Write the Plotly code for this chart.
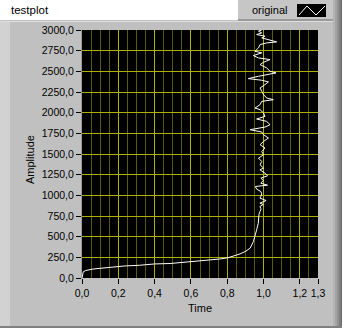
import plotly.graph_objects as go

W, H = 356, 328
ML, MR, MT, MB = 82, 38, 30, 50
PW, PH = W - ML - MR, H - MT - MB

# ---- data ----
time_vals = [0.0, 0.003, 0.007, 0.02, 0.044, 0.06, 0.099, 0.16, 0.233, 0.316, 0.40, 0.485,
             0.567, 0.64, 0.705, 0.76, 0.806, 0.843, 0.87, 0.898, 0.926, 0.944, 0.953,
             0.962, 0.971, 0.971, 0.975, 0.98, 0.985, 0.985, 0.98, 0.999, 0.98, 1.014,
             0.98, 0.985, 0.99, 0.985, 0.962, 0.955, 1.022, 0.985, 0.999, 0.985, 1.022,
             1.012, 0.99, 0.98,
             1.0, 0.981, 0.990, 0.972, 1.0, 0.990, 1.008, 0.981, 1.0, 1.027, 1.0, 0.990,
             0.926, 1.008, 1.036, 1.017, 0.962, 1.008, 1.0, 0.981, 0.953, 0.981, 0.990,
             1.054, 1.017, 1.0, 0.990, 0.981, 1.008, 1.027, 0.990, 0.916, 0.972, 1.017,
             1.069, 1.036, 1.017, 0.981, 1.0, 1.036, 0.972, 0.944, 0.990, 0.953, 0.972,
             0.981, 1.017, 1.072, 1.036, 0.990, 1.008, 0.962, 0.990, 0.972, 0.99]
amp_vals = [0, 30, 76, 90, 105, 108, 117, 130, 145, 154, 170, 175,
            190, 202, 218, 230, 246, 267, 291, 319, 360, 440, 500,
            582, 663, 743, 770, 804, 824, 844, 865, 890, 905, 937,
            966, 986, 1018, 1046, 1075, 1107, 1123, 1147, 1180, 1208, 1236,
            1261, 1289, 1309,
            1329, 1370, 1410, 1450, 1491, 1531, 1572, 1612, 1652, 1693, 1733, 1766,
            1794, 1826, 1854, 1895, 1923, 1955, 1996, 2036, 2056, 2097, 2137,
            2157, 2178, 2218, 2258, 2299, 2339, 2372, 2392, 2412, 2440, 2460,
            2481, 2501, 2541, 2582, 2610, 2642, 2662, 2691, 2723, 2743, 2784,
            2824, 2844, 2856, 2877, 2905, 2925, 2945, 2965, 2986, 3000]

x_tick_vals = [0.0, 0.2, 0.4, 0.6, 0.8, 1.0, 1.2]
x_end_tick = [1.3]
x_minor_vals = [0.05, 0.1, 0.15, 0.25, 0.3, 0.35, 0.45, 0.5, 0.55, 0.65, 0.7, 0.75,
                0.85, 0.9, 0.95, 1.05, 1.1, 1.15, 1.25]
y_tick_vals = [0, 250, 500, 750, 1000, 1250, 1500, 1750, 2000, 2250, 2500, 2750, 3000]

title_text = "testplot"
series_name = "original"
x_title = "Time"
y_title = "Amplitude"

FONT = "Liberation Sans"
MAJOR = "#b0b000"
MINOR = "#5a5a00"
PANEL = "#c0c0c0"


def px(x):
    return (x - ML) / PW


def py(y):
    return (H - MB - y) / PH


def rect(x0, y0, x1, y1, color, layer="below"):
    return dict(type="rect", xref="paper", yref="paper",
                x0=px(x0), x1=px(x1), y0=py(y1), y1=py(y0),
                fillcolor=color, line=dict(width=0), layer=layer)


fig = go.Figure()
fig.add_trace(go.Scatter(x=time_vals, y=amp_vals, mode="lines", name=series_name,
                         line=dict(color="white", width=1), showlegend=False))
fig.add_trace(go.Scatter(x=[None], y=[None], xaxis="x2", yaxis="y",
                         showlegend=False, hoverinfo="skip"))

shapes = [
    rect(0, 0, 238, 20, "white"),             # title bar
    rect(238, 0, 342, 20, "#c6c6c6"),         # legend box
    rect(238, 19, 342, 21, "#9a9a9a"),
    rect(0, 21, 342, 22, "#dedede"),          # top highlight of panel
    rect(0, 22, 10, 328, "#d2d2d2"),          # left light strip
    rect(342, 0, 356, 328, "white"),          # outside on the right
    rect(333, 0, 335, 328, "#b4b4b4"),
    rect(335, 0, 337, 328, "#a4a4a4"),
    rect(337, 0, 339, 328, "#929292"),
    rect(339, 0, 341, 328, "#7e7e7e"),
    rect(341, 0, 342, 328, "#6a6a6a"),
    rect(0, 326, 342, 328, "#808080"),        # bottom edge
    rect(297, 4, 326, 17, "black"),           # legend swatch
    dict(type="path", xref="paper", yref="paper",
         path="M {} {} L {} {} L {} {} L {} {}".format(px(299), py(15), px(307), py(6),
                                                      px(316), py(15), px(325), py(6)),
         line=dict(color="white", width=1), layer="above"),
]

annotations = [
    dict(text=title_text, xref="paper", yref="paper", x=px(9), y=py(10),
         xanchor="left", yanchor="middle", showarrow=False,
         font=dict(family=FONT, size=11.5, color="black")),
    dict(text=series_name, xref="paper", yref="paper", x=px(250), y=py(10),
         xanchor="left", yanchor="middle", showarrow=False,
         font=dict(family=FONT, size=11, color="black")),
    dict(text=x_title, xref="paper", yref="paper", x=px(200), y=py(308),
         xanchor="center", yanchor="middle", showarrow=False,
         font=dict(family=FONT, size=11, color="black")),
    dict(text=y_title, xref="paper", yref="paper", x=px(30), y=py(160),
         xanchor="center", yanchor="middle", showarrow=False, textangle=-90,
         font=dict(family=FONT, size=11, color="black")),
]

tick_common = dict(tickformat=".1f", zeroline=False, ticks="outside", ticklen=5,
                   tickcolor="black", tickwidth=1, fixedrange=True,
                   tickfont=dict(family=FONT, size=10.5, color="black"))

fig.update_layout(
    width=W, height=H,
    margin=dict(l=ML, r=MR, t=MT, b=MB, pad=0),
    paper_bgcolor=PANEL, plot_bgcolor="black",
    separators=",.",
    shapes=shapes, annotations=annotations,
    showlegend=False,
    font=dict(family=FONT, size=10.5, color="black"),
    xaxis=dict(range=[0, 1.3], tickmode="array", tickvals=x_tick_vals,
               showgrid=True, gridcolor=MAJOR, gridwidth=1, showline=False,
               minor=dict(tickmode="array", tickvals=x_minor_vals, showgrid=True,
                          gridcolor=MINOR, gridwidth=1, ticks=""),
               **tick_common),
    xaxis2=dict(range=[0, 1.3], overlaying="x", side="bottom", anchor="y",
                tickmode="array", tickvals=x_end_tick, showgrid=False, showline=False,
                **tick_common),
    yaxis=dict(range=[0, 3000], tickmode="array", tickvals=y_tick_vals,
               showgrid=True, gridcolor=MAJOR, gridwidth=1,
               showline=True, linecolor="#9a9a9a", linewidth=1,
               **tick_common),
)

fig.write_html("out.html")
